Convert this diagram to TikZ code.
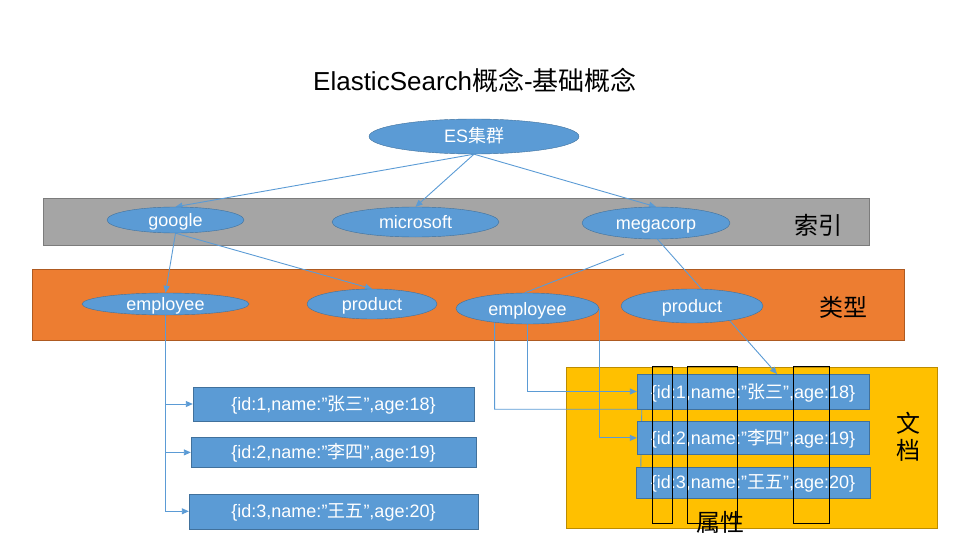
\documentclass[tikz,border=0pt]{standalone}
\usepackage{fontspec}
\setmainfont{Liberation Sans}
\newfontfamily\cjkfont{Noto Sans CJK SC}
\usetikzlibrary{arrows.meta,positioning,shapes.geometric}
\definecolor{EsBlue}{RGB}{91,155,213}
\definecolor{EsBlueLine}{RGB}{65,113,156}
\definecolor{IndexGray}{RGB}{165,165,165}
\definecolor{IndexGrayLine}{RGB}{124,124,124}
\definecolor{TypeOrange}{RGB}{237,125,49}
\definecolor{TypeOrangeLine}{RGB}{174,90,33}
\definecolor{DocYellow}{RGB}{255,192,0}
\definecolor{DocYellowLine}{RGB}{188,140,0}
\newcommand{\zh}[1]{{\cjkfont #1}}
\pgfdeclarelayer{back}
\pgfdeclarelayer{wires}
\pgfsetlayers{back,wires,main}
\tikzset{
  oval/.style={ellipse,draw=EsBlueLine,fill=EsBlue,text=white,inner sep=0pt,
    text height=13pt,text depth=0pt,font=\fontsize{18}{20}\selectfont},
  docbox/.style={rectangle,draw=EsBlueLine,fill=EsBlue,text=white,inner sep=0pt,
    text height=13pt,text depth=0pt,minimum width=232pt,font=\fontsize{18}{20}\selectfont},
  band/.style={line width=1pt},
  link/.style={draw=EsBlue,line width=0.9pt,-{Triangle[length=7pt,width=6pt]}},
  wire/.style={draw=EsBlue,line width=0.9pt},
  tag/.style={font=\fontsize{24}{27}\selectfont\cjkfont,align=center},
  field/.style={draw=black,line width=1pt}
}

\begin{document}
\begin{tikzpicture}[x=1pt,y=-1pt]
  \useasboundingbox (0,0) rectangle (960,540);
  % bands
  \begin{pgfonlayer}{back}
    \draw[band,fill=IndexGray,draw=IndexGrayLine] (43,198) rectangle (869,245);
    \draw[band,fill=TypeOrange,draw=TypeOrangeLine] (32,269) rectangle (904,340);
    \draw[band,fill=DocYellow,draw=DocYellowLine] (566,367) rectangle (937,528);
  \end{pgfonlayer}

  \node[font=\fontsize{26}{30}\selectfont] (title) at (475,80)
    {ElasticSearch\zh{概念}-\zh{基础概念}};
  \node[oval,minimum width=210pt,minimum height=35pt] (es) at (474,136.5) {ES\zh{集群}};

  % index
  \node[oval,minimum width=137pt,minimum height=26pt] (google) at (175.5,220) {google};
  \node[oval,minimum width=167pt,minimum height=30pt] (microsoft) at (415.5,222) {microsoft};
  \node[oval,minimum width=148pt,minimum height=32pt] (megacorp) at (656,223) {megacorp};
  \node[tag] (idx) at (818,225) {索引};

  % type
  \node[oval,minimum width=167pt,minimum height=22pt] (emp1) at (165.5,304) {employee};
  \node[oval,minimum width=130pt,minimum height=30pt] (prod1) at (372,304) {product};
  \node[oval,minimum width=143pt,minimum height=31pt] (emp2) at (527.5,308.5) {employee};
  \node[oval,minimum width=142pt,minimum height=34pt] (prod2) at (692,306) {product};
  \node[tag] (typ) at (843,307) {类型};

  % documents, left
  \node[docbox,minimum width=281pt,minimum height=34pt] (l1) at (333.5,404)
    {\{id:1,name:”\zh{张三}”,age:18\}};
  \node[docbox,minimum width=285pt,minimum height=30pt,below=16pt of l1] (l2)
    {\{id:2,name:”\zh{李四}”,age:19\}};
  \node[docbox,minimum width=289pt,minimum height=35pt,below=26pt of l2] (l3)
    {\{id:3,name:”\zh{王五}”,age:20\}};

  % documents, right
  \node[docbox,minimum height=35pt] (d1) at (753,391.5)
    {\{id:1,name:”\zh{张三}”,age:18\}};
  \node[docbox,minimum height=33pt,below=12pt of d1] (d2)
    {\{id:2,name:”\zh{李四}”,age:19\}};
  \node[docbox,minimum width=234pt,minimum height=31pt,below=12pt of d2] (d3)
    {\{id:3,name:”\zh{王五}”,age:20\}};
  \node[tag] (doc) at (908,437) {文\\档};

  % fields
  \draw[field] (652,366) rectangle (672,523);
  \draw[field] (687,366) rectangle (737,523);
  \draw[field] (793,366) rectangle (829,523);
  \node[tag] (attr) at (720,522) {属性};

  % connectors
  \coordinate (loose) at (624,254);
  \coordinate (m2d) at (777,374);
  \begin{pgfonlayer}{wires}
    \draw[link] (es.south) -- (google.north);
    \draw[link] (es.south) -- (microsoft.north);
    \draw[link] (es.south) -- (megacorp.north);
    \draw[link] (google.south) -- (emp1.north);
    \draw[link] (google.south) -- (prod1.north);
    \draw[wire] (loose) -- (emp2.100);
    \draw[link] (megacorp.-85) -- (m2d);
    \draw[link] (emp1.south) |- (l1.west);
    \draw[link] (emp1.south) |- (l2.west);
    \draw[link] (emp1.south) |- (l3.west);
    \draw[wire] (emp2.203) |- ([xshift=5pt]d1.south west) -- ([xshift=5pt]d3.north west);
    \draw[link] (emp2.south) |- (d1.west);
    \draw[link] (emp2.east) |- (d2.west);
  \end{pgfonlayer}
\end{tikzpicture}
\end{document}
